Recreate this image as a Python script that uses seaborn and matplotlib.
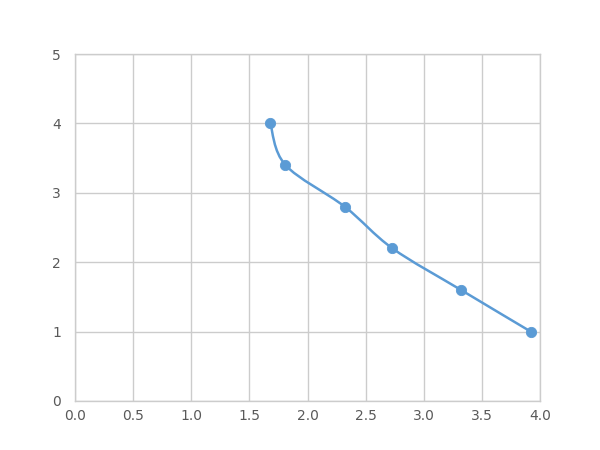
import numpy as np
import seaborn as sns
import matplotlib.pyplot as plt
from matplotlib.path import Path
from matplotlib.patches import PathPatch

# Data
conc = [1.68, 1.81, 2.32, 2.73, 3.32, 3.92]
od = [4.0, 3.4, 2.8, 2.2, 1.6, 1.0]
x_ticks = [0.0, 0.5, 1.0, 1.5, 2.0, 2.5, 3.0, 3.5, 4.0]
y_ticks = [0, 1, 2, 3, 4, 5]

blue = '#5B9BD5'
grid_c = '#CCCCCC'
text_c = '#595959'

sns.set_style('white')
plt.rcParams['font.family'] = ['DejaVu Sans']

fig = plt.figure(figsize=(6, 4.5), dpi=100)
ax = fig.add_axes([0.125, 0.109, 0.775, 0.771])

# smooth line (Catmull-Rom as cubic Bezier through the points)
pts = np.column_stack([conc, od])
ext = np.vstack([pts[0], pts, pts[-1]])
verts = [tuple(pts[0])]
codes = [Path.MOVETO]
for i in range(1, len(ext) - 2):
    p0, p1, p2, p3 = ext[i - 1], ext[i], ext[i + 1], ext[i + 2]
    c1 = p1 + (p2 - p0) / 6
    c2 = p2 - (p3 - p1) / 6
    verts += [tuple(c1), tuple(c2), tuple(p2)]
    codes += [Path.CURVE4] * 3
ax.add_patch(PathPatch(Path(verts, codes), facecolor='none', edgecolor=blue, lw=1.8, zorder=2))

sns.scatterplot(x=conc, y=od, ax=ax, color=blue, s=55, edgecolor=blue, zorder=3)

ax.set_xlim(0, 4)
ax.set_ylim(0, 5)
ax.set_xticks(x_ticks)
ax.set_xticklabels([f'{v:.1f}' for v in x_ticks])
ax.set_yticks(y_ticks)
ax.grid(True, color=grid_c, lw=1)
ax.set_axisbelow(True)
for s in ax.spines.values():
    s.set_color(grid_c)
    s.set_linewidth(1)
ax.tick_params(colors=text_c, labelsize=10, length=0, pad=6)
ax.tick_params(axis='y', pad=10)

fig.savefig('out.png', dpi=100)
